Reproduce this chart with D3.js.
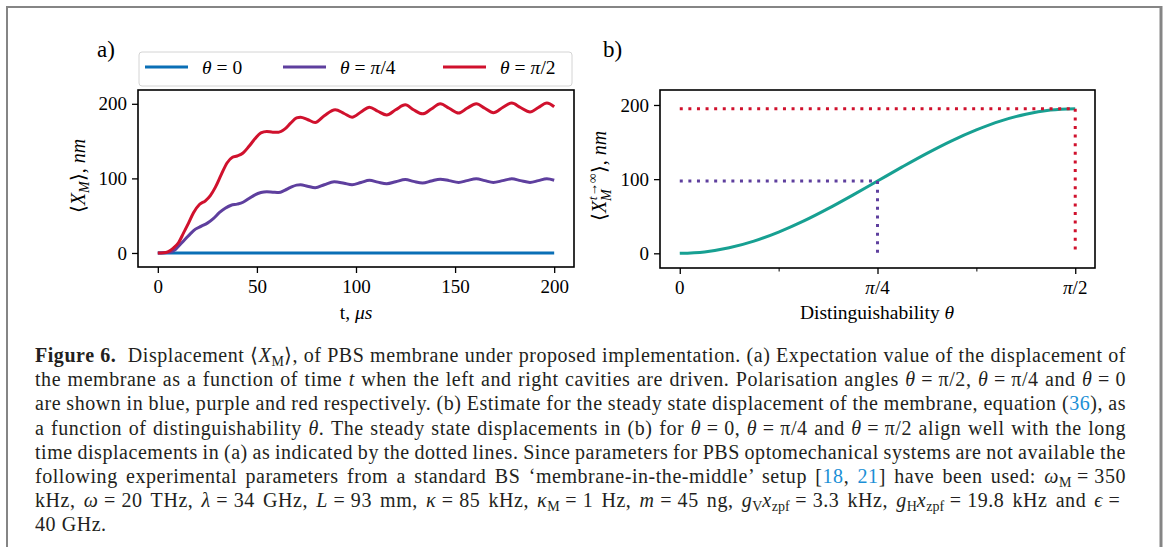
<!DOCTYPE html>
<html><head><meta charset="utf-8">
<script src="https://cdn.jsdelivr.net/npm/d3@7"></script>
<style>
body{margin:0;background:#fff;width:1163px;height:547px;overflow:hidden;position:relative;font-family:"Liberation Serif",serif;}
svg{position:absolute;left:0;top:0;}
.line{position:absolute;left:35px;white-space:nowrap;font-size:20px;line-height:20px;color:#231f20;letter-spacing:0.55px;display:inline-block;}
.line sub{font-size:0.7em;vertical-align:-0.3em;line-height:0;letter-spacing:0;}
.ref{color:#1b8fd6;}
.eq{margin:0 0.28em;}
</style></head><body>
<svg id="fig" width="1163" height="547"></svg>
<div id="cap"></div>
<script>
// ---------- data ----------
const tRed = [0,3,5,8,10.5,13,15.5,18,21,24,26.5,29,32,35,37.5,40,43,46,49,52,55,58,61,64,67,70,72,75.5,79.4,84,89.5,94,98,102.5,106.8,111,115.5,120,124.9,129,133.6,138,142.5,147,151.8,156,160.7,165,169.3,174,178.6,183,187.8,192,196.3,200];
const xRed = [0,0.3,1.5,7,14,27,40,54,65,70,77,88,105,121,128,130,134,143,153,161,163,162,162,166,174,181,182,179,175,184,192,187,182,189,195.5,190,185,192,198.6,192,186.5,193,200,194,187.5,194,200,194,188,195,201,195,189,195,201,196];
const tPurple = [0,3,6,9,11.5,14,16.5,19,22,25,28,31,34,37,40,43,46,49,52,55,58,61,64,67,70,72,75.5,79.4,84,89,94,98,102.5,106.8,111,115.5,120,124.9,129,133.6,138,142.5,147,151.8,156,160.7,165,169.3,174,178.6,183,187.8,192,196.3,200];
const xPurple = [0,0.2,1,5,12,19,26,32,36,40,46,54,60,64,65.5,68,73,78,81,82,81.5,81,84,88,91,91.5,89.5,87.5,91.5,95.5,93.5,91.5,94.5,97.5,95,92.8,95.5,98.5,96,93.7,96.5,99,97,94.6,97,99.5,97,94.6,97,99.5,97,94.6,97,99.5,97.5];
const tBlue = [0,200];
const xBlue = [0,0];
const seriesNames = ["θ = 0","θ = π/4","θ = π/2"];
const seriesColors = ["#0a6fb6","#5e3f9e","#d0112d"];

const thetaB = [0,0.0982,0.1963,0.2945,0.3927,0.4909,0.5890,0.6872,0.7854,0.8836,0.9817,1.0799,1.1781,1.2763,1.3744,1.4726,1.5708];
const xSteady = [0,1.9,7.4,16.4,28.6,43.3,60.2,78.5,97.5,116.5,134.8,151.7,166.4,178.6,187.6,193.1,195];
const markTheta = [0.7854,1.5708];
const markValue = [97.5,195];
const markColors = ["#5e3f9e","#d0112d"];
const tealColor = "#17a092";

const yTicks = [0,100,200];
const xTicksA = [0,50,100,150,200];
const xTicksB = [0,0.7854,1.5708];
const xTickLabelsB = ["0","π/4","π/2"];
const xMinorB = [0.3927,1.1781];

// ---------- drawing ----------
const svg = d3.select("#fig");
const FONT = "Liberation Serif, serif";

// outer frame
svg.append("path").attr("d","M7,547V7H1160").attr("fill","none").attr("stroke","#858585").attr("stroke-width",2);
svg.append("line").attr("x1",1161).attr("x2",1161).attr("y1",6).attr("y2",547).attr("stroke","#858585").attr("stroke-width",3);

// ---- panel a ----
const xa = d3.scaleLinear().domain([-10,210]).range([138,574]);
const ya = d3.scaleLinear().domain([-18.8,218.5]).range([267,90]);
const ga = svg.append("g");

const lineA = d3.line().x(d=>xa(d[0])).y(d=>ya(d[1])).curve(d3.curveMonotoneX);
const seriesA = [
  {t:tBlue, x:xBlue, c:seriesColors[0]},
  {t:tPurple, x:xPurple, c:seriesColors[1]},
  {t:tRed, x:xRed, c:seriesColors[2]}
];
ga.selectAll("path.s").data(seriesA).join("path").attr("class","s")
  .attr("d", s => lineA(s.t.map((t,i)=>[t,s.x[i]])))
  .attr("fill","none").attr("stroke",s=>s.c).attr("stroke-width",3).attr("stroke-linecap","butt");

ga.append("rect").attr("x",138).attr("y",90).attr("width",436).attr("height",177)
  .attr("fill","none").attr("stroke","#000").attr("stroke-width",1.6);

const axA_y = ga.append("g").attr("transform","translate(138,0)")
  .call(d3.axisLeft(ya).tickValues(yTicks).tickSize(6).tickPadding(5).tickFormat(d3.format("d")));
const axA_x = ga.append("g").attr("transform","translate(0,267)")
  .call(d3.axisBottom(xa).tickValues(xTicksA).tickSize(6).tickPadding(7).tickFormat(d3.format("d")));
[axA_y, axA_x].forEach(a=>{
  a.select(".domain").remove();
  a.selectAll("line").attr("stroke","#000").attr("stroke-width",1.3);
  a.selectAll("text").attr("font-family",FONT).attr("font-size",19).attr("fill","#000");
});

// legend
const lg = ga.append("g");
lg.append("rect").attr("x",139).attr("y",52).attr("width",433).attr("height",34).attr("rx",3)
  .attr("fill","#fff").attr("stroke","#d4d4d4").attr("stroke-width",1);
const legX = [145,283,443];
seriesNames.forEach((n,i)=>{
  lg.append("line").attr("x1",legX[i]).attr("x2",legX[i]+43).attr("y1",67).attr("y2",67)
    .attr("stroke",seriesColors[i]).attr("stroke-width",3);
  const t = lg.append("text").attr("x",legX[i]+57).attr("y",73.5).attr("font-family",FONT).attr("font-size",19.5);
  const parts = n.split(" = ");
  t.append("tspan").attr("font-style","italic").text(parts[0]);
  t.append("tspan").attr("dx",5).text("=");
  if (parts[1].startsWith("π")) {
    t.append("tspan").attr("dx",5).attr("font-style","italic").text("π");
    t.append("tspan").text(parts[1].slice(1));
  } else t.append("tspan").attr("dx",5).text(parts[1]);
});

svg.append("text").attr("x",97).attr("y",57).attr("font-family",FONT).attr("font-size",23).text("a)");

// axis labels a
const xlA = svg.append("text").attr("x",356).attr("y",319).attr("text-anchor","middle").attr("font-family",FONT).attr("font-size",19.5);
xlA.append("tspan").text("t, ");
xlA.append("tspan").attr("font-style","italic").text("μs");

const ylA = svg.append("text").attr("transform","translate(85,176) rotate(-90)").attr("text-anchor","middle").attr("font-family",FONT).attr("font-size",20);
ylA.append("tspan").text("⟨");
ylA.append("tspan").attr("font-style","italic").text("X");
ylA.append("tspan").attr("font-style","italic").attr("font-size",14).attr("dy",4).text("M");
ylA.append("tspan").attr("dy",-4).text("⟩, ");
ylA.append("tspan").attr("font-style","italic").text("nm");

// ---- panel b ----
const xb = d3.scaleLinear().domain([-0.0785,1.6493]).range([660,1095]);
const yb = d3.scaleLinear().domain([-19.8,220.2]).range([268,90]);
const gb = svg.append("g");

const lineB = d3.line().x(d=>xb(d[0])).y(d=>yb(d[1])).curve(d3.curveMonotoneX);
gb.append("path").attr("d", lineB(thetaB.map((t,i)=>[t,xSteady[i]])))
  .attr("fill","none").attr("stroke",tealColor).attr("stroke-width",3);

markTheta.forEach((th,i)=>{
  const pts = [[0,markValue[i]],[th,markValue[i]],[th,0]];
  gb.append("path").attr("d", d3.line().x(d=>xb(d[0])).y(d=>yb(d[1]))(pts))
    .attr("fill","none").attr("stroke",markColors[i]).attr("stroke-width",3)
    .attr("stroke-dasharray","3,5.6");
});

gb.append("rect").attr("x",660).attr("y",90).attr("width",435).attr("height",178)
  .attr("fill","none").attr("stroke","#000").attr("stroke-width",1.6);

const axB_y = gb.append("g").attr("transform","translate(660,0)")
  .call(d3.axisLeft(yb).tickValues(yTicks).tickSize(6).tickPadding(5).tickFormat(d3.format("d")));
axB_y.select(".domain").remove();
axB_y.selectAll("line").attr("stroke","#000").attr("stroke-width",1.3);
axB_y.selectAll("text").attr("font-family",FONT).attr("font-size",19).attr("fill","#000");

const axB_x = gb.append("g").attr("transform","translate(0,268)")
  .call(d3.axisBottom(xb).tickValues(xTicksB).tickSize(6).tickFormat(""));
axB_x.select(".domain").remove();
axB_x.selectAll("line").attr("stroke","#000").attr("stroke-width",1.3);
const axB_xm = gb.append("g").attr("transform","translate(0,268)")
  .call(d3.axisBottom(xb).tickValues(xMinorB).tickSize(3.5).tickFormat(""));
axB_xm.select(".domain").remove();
axB_xm.selectAll("line").attr("stroke","#000").attr("stroke-width",1);

xTicksB.forEach((v,i)=>{
  const t = gb.append("text").attr("x",xb(v)).attr("y",294).attr("text-anchor","middle")
    .attr("font-family",FONT).attr("font-size",19);
  const lab = xTickLabelsB[i];
  if (lab.startsWith("π")) {
    t.append("tspan").attr("font-style","italic").text("π");
    t.append("tspan").text(lab.slice(1));
  } else t.text(lab);
});

svg.append("text").attr("x",603).attr("y",57).attr("font-family",FONT).attr("font-size",23).text("b)");

const xlB = svg.append("text").attr("x",877).attr("y",319).attr("text-anchor","middle").attr("font-family",FONT).attr("font-size",19.5);
xlB.append("tspan").text("Distinguishability ");
xlB.append("tspan").attr("font-style","italic").text("θ");

const ylB = svg.append("text").attr("transform","translate(606,176) rotate(-90)").attr("text-anchor","middle").attr("font-family",FONT).attr("font-size",20);
ylB.append("tspan").text("⟨");
ylB.append("tspan").attr("font-style","italic").text("X");
ylB.append("tspan").attr("font-style","italic").attr("font-size",14).attr("dy",5).text("M");
ylB.append("tspan").attr("font-style","italic").attr("font-size",13.5).attr("dx",-11).attr("dy",-14).text("t→∞");
ylB.append("tspan").attr("dy",9).text("⟩, ");
ylB.append("tspan").attr("font-style","italic").text("nm");

// ---- caption ----
const captionLines = [
  '<b>Figure 6.</b>&nbsp;&nbsp;Displacement ⟨<i>X</i><sub>M</sub>⟩, of PBS membrane under proposed implementation. (a) Expectation value of the displacement of',
  'the membrane as a function of time <i>t</i> when the left and right cavities are driven. Polarisation angles <i>θ</i><span class="eq">=</span>π/2, <i>θ</i><span class="eq">=</span>π/4 and <i>θ</i><span class="eq">=</span>0',
  'are shown in blue, purple and red respectively. (b) Estimate for the steady state displacement of the membrane, equation (<span class="ref">36</span>), as',
  'a function of distinguishability <i>θ</i>. The steady state displacements in (b) for <i>θ</i><span class="eq">=</span>0, <i>θ</i><span class="eq">=</span>π/4 and <i>θ</i><span class="eq">=</span>π/2 align well with the long',
  'time displacements in (a) as indicated by the dotted lines. Since parameters for PBS optomechanical systems are not available the',
  'following experimental parameters from a standard BS ‘membrane-in-the-middle’ setup [<span class="ref">18</span>, <span class="ref">21</span>] have been used: <i>ω</i><sub>M</sub><span class="eq">=</span>350',
  'kHz, <i>ω</i><span class="eq">=</span>20 THz, <i>λ</i><span class="eq">=</span>34 GHz, <i>L</i><span class="eq">=</span>93 mm, <i>κ</i><span class="eq">=</span>85 kHz, <i>κ</i><sub>M</sub><span class="eq">=</span>1 Hz, <i>m</i><span class="eq">=</span>45 ng, <i>g</i><sub>V</sub><i>x</i><sub>zpf</sub><span class="eq">=</span>3.3 kHz, <i>g</i><sub>H</sub><i>x</i><sub>zpf</sub><span class="eq">=</span>19.8 kHz and <i>ϵ</i><span class="eq">=</span>',
  '40 GHz.'
];
const capTop = 345, capStep = 24.2, capWidth = 1091;
const cap = d3.select("#cap").selectAll("div").data(captionLines).join("div")
  .attr("class","line").style("top",(d,i)=>(capTop+i*capStep)+"px").html(d=>d);
cap.each(function(d,i){
  if (i === captionLines.length-1) return;
  const w = this.getBoundingClientRect().width;
  const n = (this.textContent.match(/[ \u00a0]/g)||[]).length;
  if (n>0) this.style.wordSpacing = ((capWidth - w)/n) + "px";
});
</script>
</body></html>
